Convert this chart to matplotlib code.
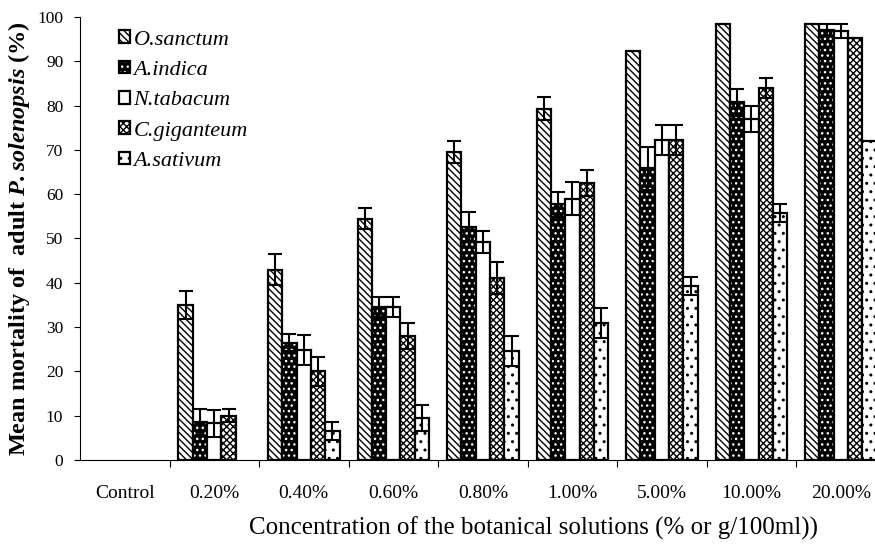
import numpy as np
import matplotlib
matplotlib.use("Agg")
import matplotlib.pyplot as plt

plt.rcParams['font.family'] = ['Liberation Serif', 'DejaVu Serif']
plt.rcParams['mathtext.fontset'] = 'custom'
plt.rcParams['mathtext.rm'] = 'Liberation Serif'
plt.rcParams['mathtext.it'] = 'Liberation Serif:italic'
plt.rcParams['mathtext.bf'] = 'Liberation Serif:bold'
plt.rcParams['mathtext.bfit'] = 'Liberation Serif:italic:bold'
plt.rcParams['hatch.linewidth'] = 1.0

concentrations = ["Control", "0.20%", "0.40%", "0.60%", "0.80%", "1.00%", "5.00%", "10.00%", "20.00%"]
species = ["O.sanctum", "A.indica", "N.tabacum", "C.giganteum", "A.sativum"]

o_sanctum = [0, 35, 43, 54.5, 69.5, 79.3, 92.3, 98.5, 98.5]
o_sanctum_err = [0, 3.2, 3.5, 2.3, 2.5, 2.6, 0, 0, 0]
a_indica = [0, 8.5, 26.5, 34.5, 52.7, 57.7, 65.8, 80.7, 97]
a_indica_err = [0, 3, 2, 2.2, 3.3, 2.9, 4.9, 3, 1.4]
n_tabacum = [0, 8.3, 24.8, 34.5, 49.3, 59, 72.2, 77, 96.8]
n_tabacum_err = [0, 3, 3.4, 2.2, 2.5, 3.8, 3.4, 3, 1.6]
c_giganteum = [0, 10, 20, 28, 41, 62.5, 72.2, 84, 95.2]
c_giganteum_err = [0, 1.5, 3.3, 3, 3.6, 3, 3.4, 2.2, 0]
a_sativum = [0, 0, 6.6, 9.5, 24.6, 31, 39.2, 55.7, 72.1]
a_sativum_err = [0, 0, 2, 3, 3.4, 3.4, 2, 2, 0]

values = [o_sanctum, a_indica, n_tabacum, c_giganteum, a_sativum]
errors = [o_sanctum_err, a_indica_err, n_tabacum_err, c_giganteum_err, a_sativum_err]

fig = plt.figure(figsize=(8.75, 5.47), dpi=100)
ax = fig.add_axes([0.0914, 0.159, 0.9086, 0.81])

x = np.arange(len(concentrations))
w = 0.16
handles = []
for i, sp in enumerate(species):
    vals = np.array(values[i], dtype=float)
    err = np.array(errors[i], dtype=float)
    pos = x + (i - 2) * w
    nz = vals > 0  # zero bars are not drawn
    if sp == "A.indica":
        b1 = ax.bar(pos[nz], vals[nz], w, color='black', edgecolor='white', hatch='...', linewidth=0)
        b2 = ax.bar(pos[nz], vals[nz], w, fill=False, edgecolor='black', linewidth=1.6)
        handles.append((b1[0], b2[0]))
    else:
        hatch = {"O.sanctum": '\\\\\\\\\\', "N.tabacum": None,
                 "C.giganteum": 'xxxxx', "A.sativum": '..'}[sp]
        b = ax.bar(pos[nz], vals[nz], w, color='white', edgecolor='black', hatch=hatch, linewidth=1.6)
        handles.append(b[0])
    m = err > 0
    ax.errorbar(pos[m], vals[m], yerr=err[m], fmt='none', ecolor='black',
                elinewidth=1.5, capsize=5, capthick=1.5)

ax.set_xlim(-0.5, 8.38)
ax.set_ylim(0, 100)
ax.set_yticks(np.arange(0, 101, 10))
ax.tick_params(axis='y', labelsize=12.5, length=4, width=0.8, pad=8)
ax.set_xticks(x)
ax.set_xticklabels(concentrations, fontsize=14)
ax.set_xticks(x[:-1] + 0.5, minor=True)
ax.tick_params(axis='x', which='major', length=0, pad=18)
ax.tick_params(axis='x', which='minor', length=5, width=0.8)
for s in ['top', 'right']:
    ax.spines[s].set_visible(False)
ax.spines['left'].set_linewidth(0.8)
ax.spines['bottom'].set_linewidth(0.8)

ax.set_ylabel(r"Mean mortality of  adult $\mathbfit{P.solenopsis}$ (%)", fontsize=17.5,
              fontweight='bold', labelpad=4)
ax.set_xlabel("Concentration of the botanical solutions (% or g/100ml))", fontsize=18)
ax.xaxis.set_label_coords(0.571, -0.128)

ax.legend(handles, species, loc='upper left', bbox_to_anchor=(0.024, 1.015), frameon=False,
          prop={'style': 'italic', 'size': 16}, handlelength=0.5, handleheight=0.5,
          handletextpad=0.15, labelspacing=0.5)

fig.savefig("out.png", dpi=100)
